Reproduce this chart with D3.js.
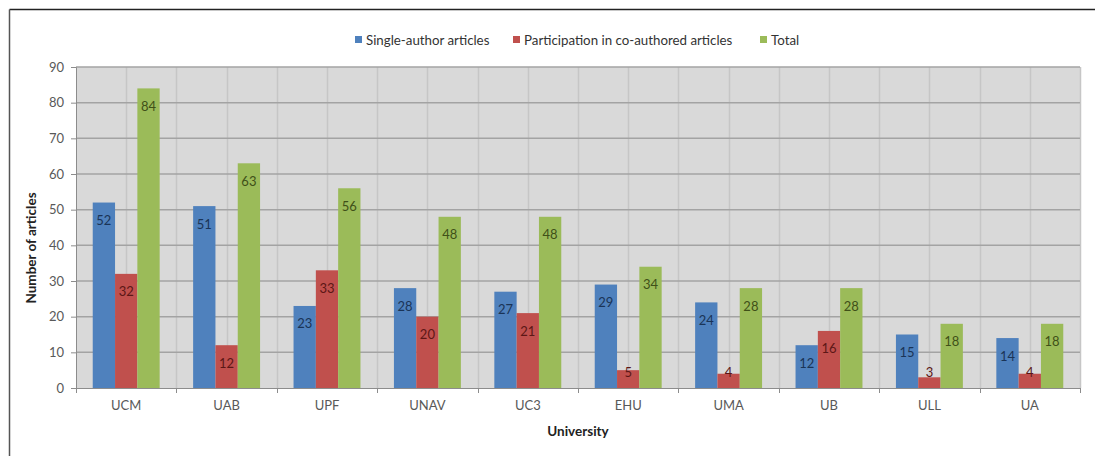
<!DOCTYPE html>
<html><head><meta charset="utf-8">
<script src="https://cdn.jsdelivr.net/npm/d3@7"></script>
<style>
html,body{margin:0;padding:0;background:#fff;}
svg{display:block;font-family:Lato,"Open Sans",sans-serif;}
</style></head>
<body><svg id="c" width="1095" height="456"></svg>
<script>
const categories = ["UCM","UAB","UPF","UNAV","UC3","EHU","UMA","UB","ULL","UA"];
const seriesNames = ["Single-author articles","Participation in co-authored articles","Total"];
const singleAuthor = [52,51,23,28,27,29,24,12,15,14];
const coAuthored = [32,12,33,20,21,5,4,16,3,4];
const total = [84,63,56,48,48,34,28,28,18,18];
const yTicks = [0,10,20,30,40,50,60,70,80,90];
const seriesValues = [singleAuthor, coAuthored, total];
const colors = ["#4F81BD","#C0504D","#9BBB59"];
const labelColors = ["#1a3457","#5c1716","#3f5018"];

const svg = d3.select("#c");
const L = 76, R = 1080, T = 67, B = 388;

// frame lines
svg.append("line").attr("x1",9.5).attr("x2",1095).attr("y1",9.5).attr("y2",9.5).attr("stroke","#222").attr("stroke-width",1.5);
svg.append("line").attr("x1",9.5).attr("x2",9.5).attr("y1",9.5).attr("y2",456).attr("stroke","#555").attr("stroke-width",1.5);

const x = d3.scaleBand().domain(categories).range([L,R]).padding(0);
const xi = d3.scaleBand().domain(d3.range(3)).range([0,x.bandwidth()]).paddingInner(0).paddingOuter(0.75);
const y = d3.scaleLinear().domain([0,90]).range([B,T]);

// plot background
svg.append("rect").attr("x",L).attr("y",T).attr("width",R-L).attr("height",B-T).attr("fill","#d9d9d9");

// vertical gridlines at boundaries and centers
const vlines = [];
categories.forEach(c=>{ vlines.push(x(c)); vlines.push(x(c)+x.bandwidth()/2); });
vlines.push(R);
svg.append("g").selectAll("line").data(vlines.slice(1)).join("line")
  .attr("x1",d=>Math.round(d)+0.5).attr("x2",d=>Math.round(d)+0.5).attr("y1",T).attr("y2",B)
  .attr("stroke","#c6c6c6").attr("stroke-width",1.5);

// horizontal gridlines
svg.append("g").selectAll("line").data(yTicks.slice(1)).join("line")
  .attr("x1",L).attr("x2",R).attr("y1",d=>y(d)).attr("y2",d=>y(d))
  .attr("stroke","#a3a3a3").attr("stroke-width",1.5);

// y axis
const yAxis = d3.axisLeft(y).tickValues(yTicks).tickSize(5).tickPadding(7);
const gy = svg.append("g").attr("transform",`translate(${L},0)`).call(yAxis);
gy.select(".domain").attr("stroke","#8c8c8c");
gy.selectAll(".tick line").attr("stroke","#8c8c8c");
gy.selectAll("text").attr("fill","#595959").style("font-size","13px").style("font-family","Lato, sans-serif");

// x axis
const xAxis = d3.axisBottom(x).tickSize(0).tickPadding(13);
const gx = svg.append("g").attr("transform",`translate(0,${B})`).call(xAxis);
gx.select(".domain").attr("stroke","#8c8c8c");
gx.selectAll("text").attr("fill","#595959").style("font-size","13px").style("font-family","Lato, sans-serif");
// boundary tick marks
svg.append("g").selectAll("line").data(categories.map(c=>x(c)).concat([R])).join("line")
  .attr("x1",d=>Math.round(d)+0.5).attr("x2",d=>Math.round(d)+0.5).attr("y1",B).attr("y2",B+5)
  .attr("stroke","#8c8c8c");

// bars
seriesValues.forEach((vals,si)=>{
  const g = svg.append("g");
  g.selectAll("rect").data(vals).join("rect")
    .attr("x",(d,i)=>x(categories[i])+xi(si))
    .attr("width",xi.bandwidth())
    .attr("y",d=>y(d)).attr("height",d=>B-y(d))
    .attr("fill",colors[si]);
  g.selectAll("text").data(vals).join("text")
    .attr("x",(d,i)=>x(categories[i])+xi(si)+xi.bandwidth()/2)
    .attr("y",d=>Math.min(y(d)+18, B-16)+4.5)
    .attr("text-anchor","middle")
    .attr("fill",labelColors[si])
    .style("font-size","13px")
    .text(d=>d);
});

// axis titles
svg.append("text").attr("transform","translate(36,248) rotate(-90)").attr("text-anchor","middle")
  .style("font-size","13.5px").style("font-weight","bold").attr("fill","#222").text("Number of articles");
svg.append("text").attr("x",578).attr("y",436).attr("text-anchor","middle")
  .style("font-size","13.5px").style("font-weight","bold").attr("fill","#222").text("University");

// legend
const legX = [355, 513, 760];
seriesNames.forEach((n,i)=>{
  svg.append("rect").attr("x",legX[i]).attr("y",36).attr("width",7).attr("height",7).attr("fill",colors[i]);
  svg.append("text").attr("x",legX[i]+11).attr("y",44.5).style("font-size","13.3px").attr("fill","#333").text(n);
});
</script></body></html>
